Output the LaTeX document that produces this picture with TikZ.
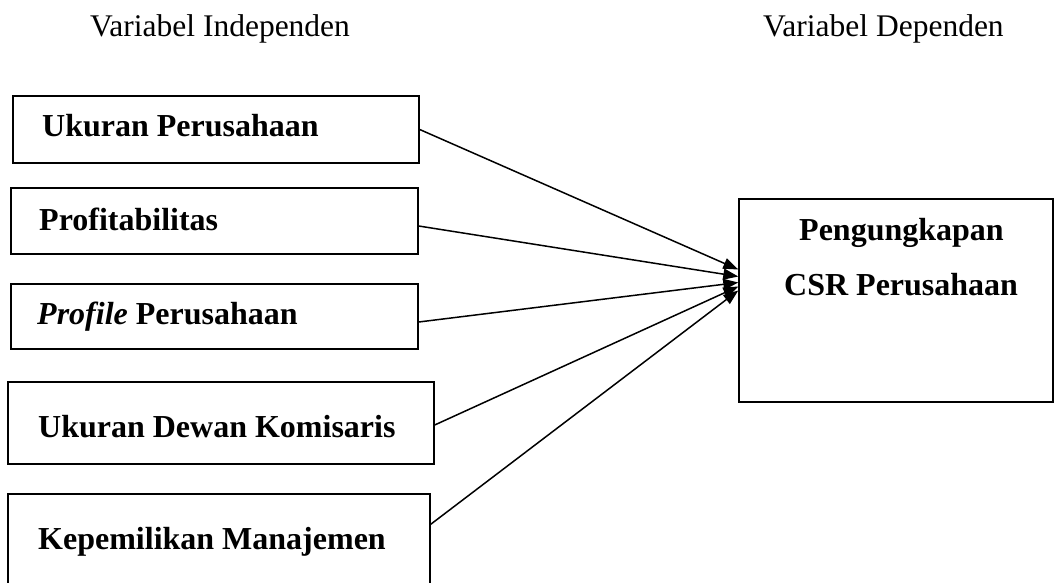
\documentclass[tikz,border=0pt]{standalone}
\usepackage{fontspec}
\setmainfont{Liberation Serif}
\usetikzlibrary{arrows.meta,calc}
\begin{document}
\begin{tikzpicture}[x=1pt,y=-1pt,
  box/.style={draw=black,line width=1.4pt,rectangle,inner sep=0pt},
  lbl/.style={font=\fontsize{32}{36}\selectfont\bfseries,inner sep=0pt,anchor=base west},
  head/.style={font=\fontsize{31.5}{36}\selectfont,inner sep=0pt,anchor=base west},
  arr/.style={line width=1.5pt,-{Triangle[length=15pt,width=11pt]}}]
\useasboundingbox (0,0) rectangle (1055,583);
\clip (0,0) rectangle (1055,583);
% headings
\node[head] (h1) at (90,37) {Variabel Independen};
\node[head] (h2) at (763,37) {Variabel Dependen};
% boxes
\node[box,minimum width=406,minimum height=67] (b1) at (216,129.5) {};
\node[box,minimum width=407,minimum height=66] (b2) at (214.5,221) {};
\node[box,minimum width=407,minimum height=65] (b3) at (214.5,316.5) {};
\node[box,minimum width=426,minimum height=82] (b4) at (221,423) {};
\node[box,minimum width=422,minimum height=130] (b5) at (219,559) {};
\node[box,minimum width=314,minimum height=203] (tg) at (896,300.5) {};
% labels
\node[lbl] (t1) at (42,137) {Ukuran Perusahaan};
\node[lbl] (t2) at (39,230) {Profitabilitas};
\node[lbl] (t3) at (37,324) {\textit{Profile} Perusahaan};
\node[lbl] (t4) at (38,437) {Ukuran Dewan Komisaris};
\node[lbl] (t5) at (38,549) {Kepemilikan Manajemen};
\node[lbl] (t6) at (799,240) {Pengungkapan};
\node[lbl] (t7) at (784,295) {CSR Perusahaan};
% arrow end points on the target
\coordinate (e1) at ($(tg.west)+(0,-31)$);
\coordinate (e2) at ($(tg.west)+(0,-24)$);
\coordinate (e3) at ($(tg.west)+(0,-18)$);
\coordinate (e4) at ($(tg.west)+(0,-14)$);
\coordinate (e5) at ($(tg.west)+(0,-10)$);
% connectors
\draw[arr] (b1.east) -- (e1);
\draw[arr] ($(b2.east)+(0,5)$) -- (e2);
\draw[arr] ($(b3.east)+(0,5.5)$) -- (e3);
\draw[arr] ($(b4.east)+(0,2)$) -- (e4);
\draw[arr] ($(b5.north east)+(0,31)$) -- (e5);
\end{tikzpicture}
\end{document}
